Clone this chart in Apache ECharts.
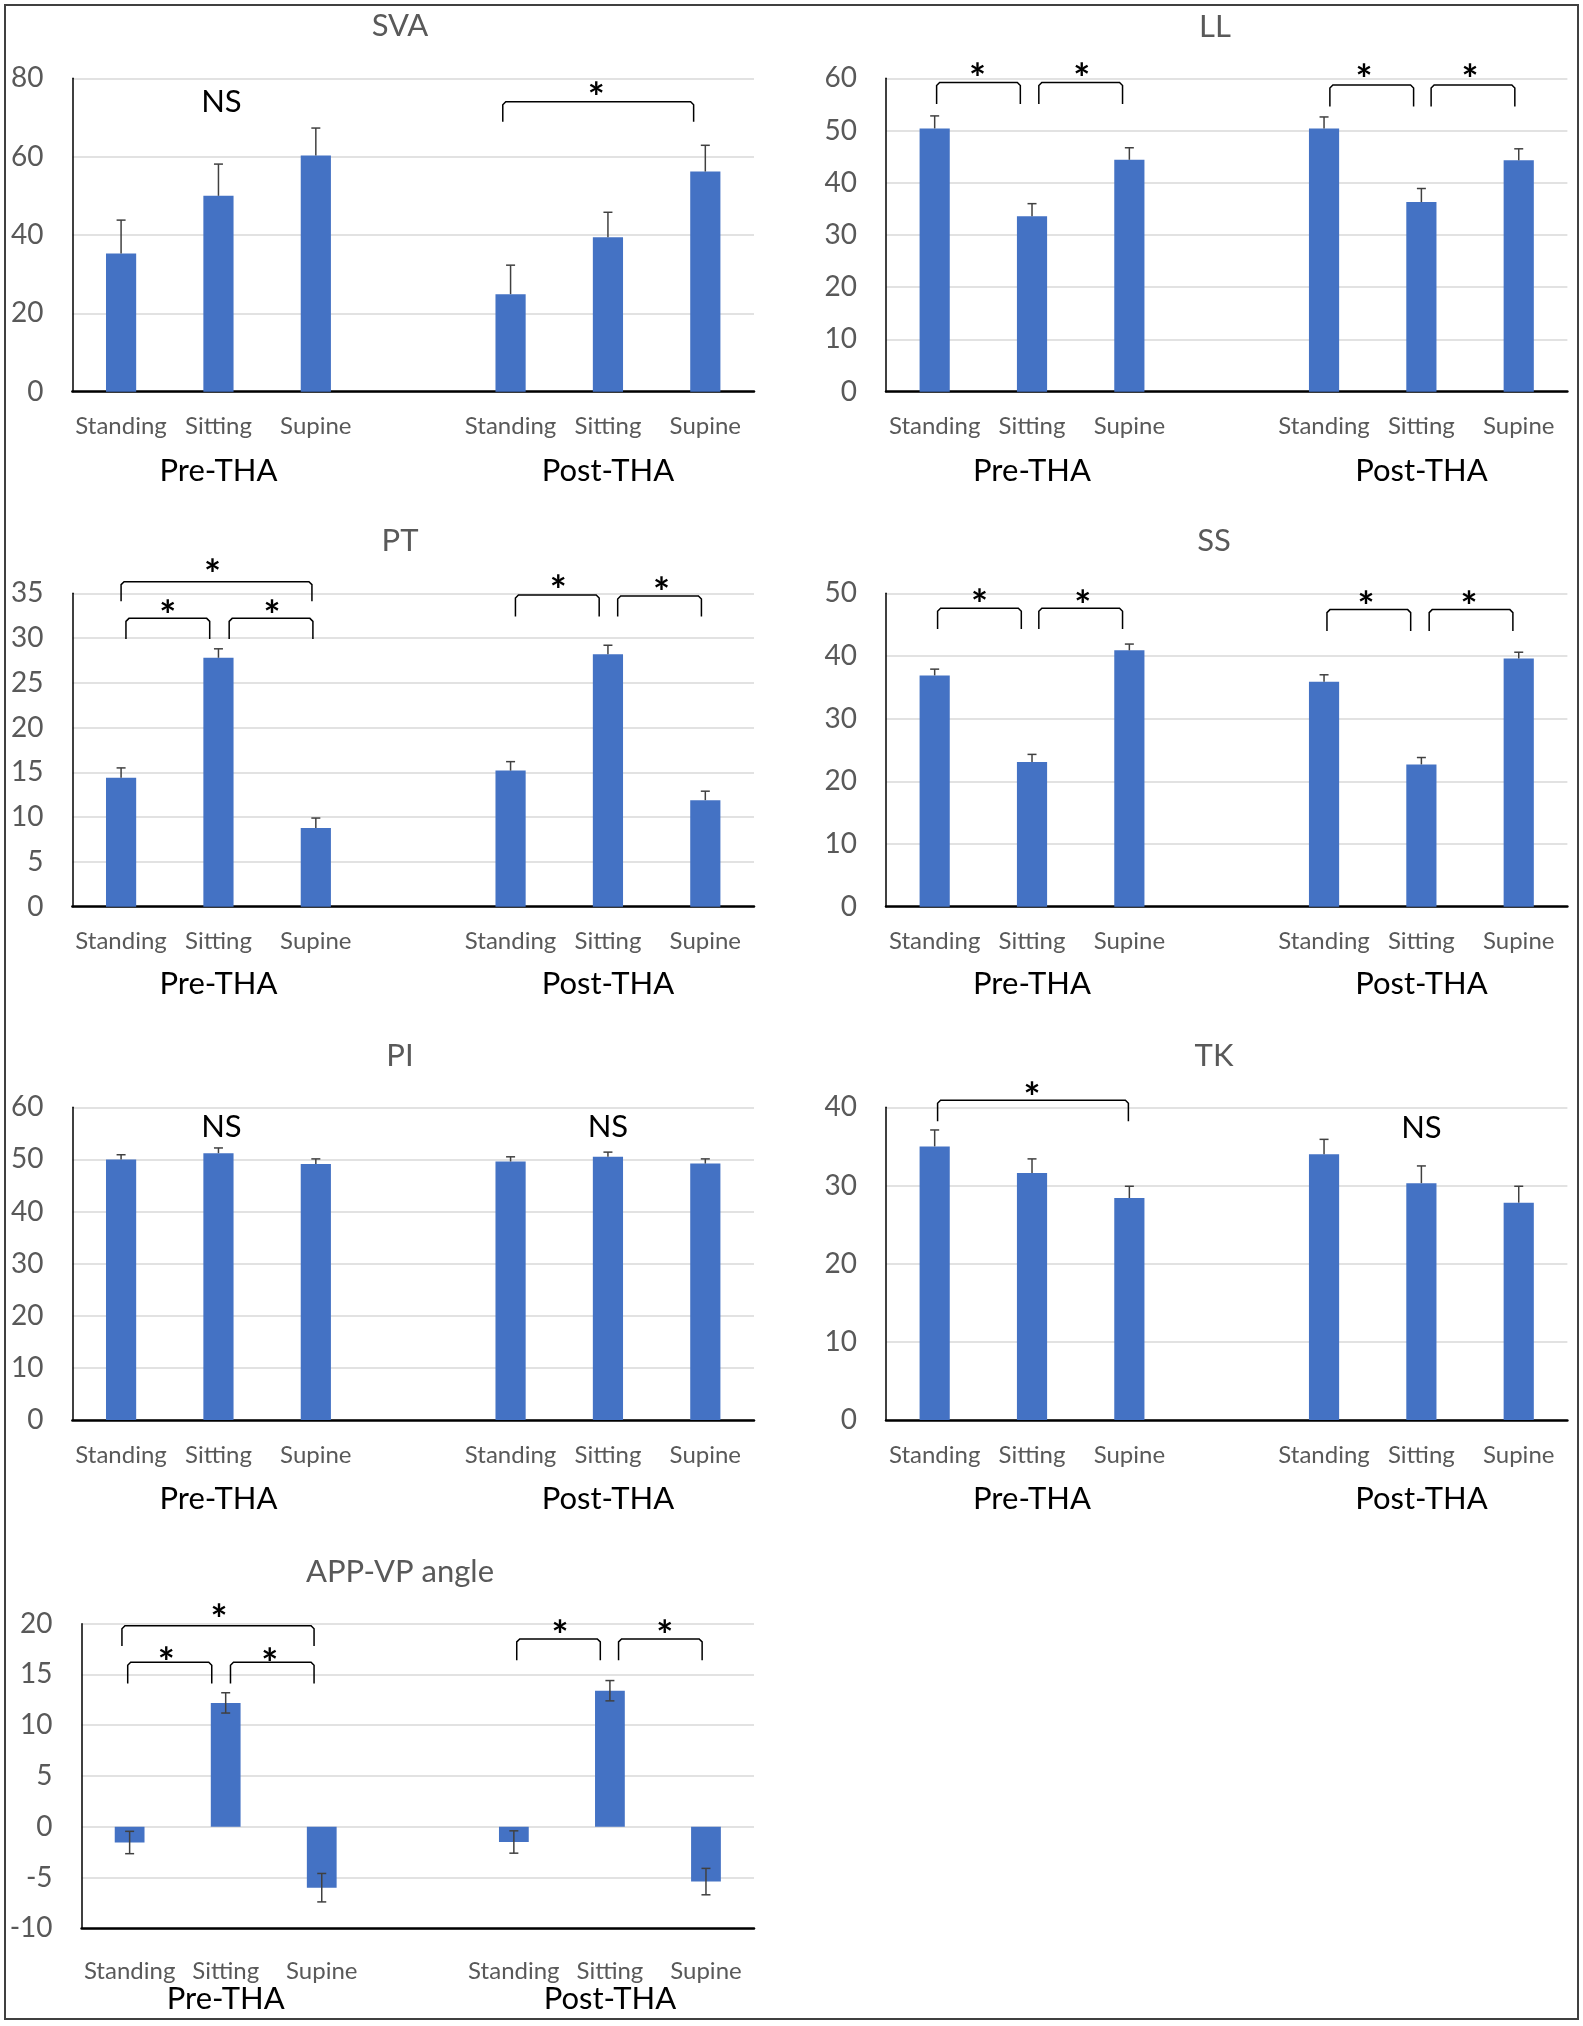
<!DOCTYPE html>
<html>
<head>
<meta charset="utf-8">
<script src="https://cdn.jsdelivr.net/npm/echarts@6/dist/echarts.min.js"></script>
<style>
html,body{margin:0;padding:0;background:#fff;}
#chart{width:1583px;height:2026px;}
</style>
</head>
<body>
<div id="chart"></div>
<script>
// ---------- DATA ----------
const categories = ['Standing', 'Sitting', 'Supine', '', 'Standing', 'Sitting', 'Supine'];
const groupLabels = ['', 'Pre-THA', '', '', '', 'Post-THA', ''];
const titles = ['SVA', 'LL', 'PT', 'SS', 'PI', 'TK', 'APP-VP angle'];

const svaMean = [35.3, 50.0, 60.3, null, 24.9, 39.4, 56.2];
const svaErr  = [8.5, 8.1, 7.0, null, 7.4, 6.4, 6.7];
const llMean  = [50.4, 33.6, 44.4, null, 50.4, 36.3, 44.3];
const llErr   = [2.4, 2.4, 2.3, null, 2.2, 2.6, 2.2];
const ptMean  = [14.4, 27.8, 8.8, null, 15.2, 28.2, 11.9];
const ptErr   = [1.1, 1.0, 1.1, null, 1.0, 1.0, 1.0];
const ssMean  = [36.9, 23.1, 40.9, null, 35.9, 22.7, 39.6];
const ssErr   = [1.0, 1.2, 1.0, null, 1.1, 1.1, 1.0];
const piMean  = [50.0, 51.2, 49.1, null, 49.6, 50.5, 49.2];
const piErr   = [0.9, 1.0, 1.0, null, 0.9, 0.9, 0.9];
const tkMean  = [35.0, 31.6, 28.4, null, 34.0, 30.3, 27.8];
const tkErr   = [2.1, 1.8, 1.5, null, 1.9, 2.2, 2.1];
const appMean = [-1.55, 12.2, -6.0, null, -1.5, 13.4, -5.4];
const appErr  = [1.1, 1.0, 1.4, null, 1.1, 1.0, 1.3];

// tick labels (value axes)
const svaTicks = [0, 20, 40, 60, 80];
const llTicks  = [0, 10, 20, 30, 40, 50, 60];
const ptTicks  = [0, 5, 10, 15, 20, 25, 30, 35];
const ssTicks  = [0, 10, 20, 30, 40, 50];
const piTicks  = [0, 10, 20, 30, 40, 50, 60];
const tkTicks  = [0, 10, 20, 30, 40];
const appTicks = [-10, -5, 0, 5, 10, 15, 20];

// significance annotations: brackets [fromCat, toCat, topValue, legValue], stars [cat, value], NS [cat, value]
const svaBrackets = [[3.92, 5.88, 74.0, 68.9]];
const svaStars    = [[4.88, 77.5]];
const svaNS       = [[1.03, 74.0]];
const llBrackets  = [[0.02, 0.88, 59.2, 55.1], [1.07, 1.93, 59.2, 55.1], [4.06, 4.92, 58.7, 54.6], [5.10, 5.96, 58.7, 54.6]];
const llStars     = [[0.44, 61.7], [1.51, 61.7], [4.41, 61.6], [5.50, 61.6]];
const ptBrackets  = [[0.0, 1.96, 36.3, 34.1], [0.05, 0.91, 32.2, 29.9], [1.11, 1.97, 32.2, 29.9], [4.05, 4.91, 34.8, 32.4], [5.10, 5.96, 34.7, 32.4]];
const ptStars     = [[0.94, 38.1], [0.48, 33.6], [1.55, 33.5], [4.49, 36.3], [5.55, 36.1]];
const ssBrackets  = [[0.03, 0.89, 47.6, 44.3], [1.07, 1.93, 47.6, 44.3], [4.03, 4.89, 47.4, 44.0], [5.08, 5.94, 47.4, 44.0]];
const ssStars     = [[0.46, 49.7], [1.52, 49.6], [4.43, 49.4], [5.49, 49.4]];
const piNS        = [[1.03, 56.2], [5.0, 56.2]];
const tkBrackets  = [[0.03, 1.99, 40.9, 38.2]];
const tkStars     = [[1.0, 42.4]];
const tkNS        = [[5.0, 37.4]];
const appBrackets = [[-0.08, 1.92, 19.8, 17.8], [-0.02, 0.855, 16.2, 14.1], [1.05, 1.92, 16.2, 14.1], [4.03, 4.90, 18.5, 16.4], [5.09, 5.96, 18.5, 16.4]];
const appStars    = [[0.93, 21.3], [0.38, 17.1], [1.46, 17.0], [4.48, 19.7], [5.57, 19.7]];

// ---------- PANELS ----------
const panels = [
  {mean: svaMean, err: svaErr, ticks: svaTicks, brackets: svaBrackets, stars: svaStars, ns: svaNS, both: false},
  {mean: llMean,  err: llErr,  ticks: llTicks,  brackets: llBrackets,  stars: llStars,  ns: [],    both: false},
  {mean: ptMean,  err: ptErr,  ticks: ptTicks,  brackets: ptBrackets,  stars: ptStars,  ns: [],    both: false},
  {mean: ssMean,  err: ssErr,  ticks: ssTicks,  brackets: ssBrackets,  stars: ssStars,  ns: [],    both: false},
  {mean: piMean,  err: piErr,  ticks: piTicks,  brackets: [],          stars: [],       ns: piNS,  both: false},
  {mean: tkMean,  err: tkErr,  ticks: tkTicks,  brackets: tkBrackets,  stars: tkStars,  ns: tkNS,  both: false},
  {mean: appMean, err: appErr, ticks: appTicks, brackets: appBrackets, stars: appStars, ns: [],    both: true}
];

const layout = [
  {left: 72.4, top: 78.3,   width: 681.6, height: 313.4, titleX: 400,  titleY: 26,   catMargin: 21, grpMargin: 61},
  {left: 886,  top: 78.3,   width: 681.4, height: 313.4, titleX: 1215, titleY: 27,   catMargin: 21, grpMargin: 61},
  {left: 72.4, top: 593.3,  width: 681.6, height: 313.4, titleX: 400,  titleY: 541,  catMargin: 21, grpMargin: 59},
  {left: 886,  top: 593.3,  width: 681.4, height: 313.4, titleX: 1214, titleY: 541,  catMargin: 21, grpMargin: 59},
  {left: 72.4, top: 1107.3, width: 681.6, height: 312.7, titleX: 400,  titleY: 1056, catMargin: 21, grpMargin: 61},
  {left: 886,  top: 1107.3, width: 681.4, height: 312.7, titleX: 1214, titleY: 1056, catMargin: 21, grpMargin: 61},
  {left: 81.6, top: 1623.7, width: 672.4, height: 304.6, titleX: 400,  titleY: 1572, catMargin: 29, grpMargin: 53}
];

const FONT = 'Lato, "Noto Sans", sans-serif';
const BAR_COLOR = '#4472C4';
const TEXT_GRAY = '#595959';
const STAR_SIZE = 40;

function errRender(params, api) {
  const x = api.value(0);
  const lo = api.coord([x, api.value(1)]);
  const hi = api.coord([x, api.value(2)]);
  const both = api.value(3) === 1;
  const st = {stroke: '#404040', lineWidth: 1.5};
  const cap = 4.5;
  const children = [
    {type: 'line', shape: {x1: hi[0], y1: lo[1], x2: hi[0], y2: hi[1]}, style: st},
    {type: 'line', shape: {x1: hi[0] - cap, y1: hi[1], x2: hi[0] + cap, y2: hi[1]}, style: st}
  ];
  if (both) {
    children.push({type: 'line', shape: {x1: lo[0] - cap, y1: lo[1], x2: lo[0] + cap, y2: lo[1]}, style: st});
  }
  return {type: 'group', children: children};
}

function makeAnnot(p) {
  return function (params, api) {
    const base = api.coord([0, p.ticks[0]]);
    const band = api.size([1, 0])[0];
    const px = f => base[0] + f * band;
    const py = v => api.coord([0, v])[1];
    const children = [];
    p.brackets.forEach(b => {
      const x1 = px(b[0]), x2 = px(b[1]), yt = py(b[2]), yl = py(b[3]);
      children.push({
        type: 'polyline',
        shape: {points: [[x1, yl], [x1, yt + 3], [x1 + 3, yt], [x2 - 3, yt], [x2, yt + 3], [x2, yl]]},
        style: {stroke: '#000', lineWidth: 1.5, fill: null}
      });
    });
    p.stars.forEach(s => {
      children.push({
        type: 'text',
        style: {text: '*', x: px(s[0]), y: py(s[1]) + STAR_SIZE * 0.27, font: 'bold ' + STAR_SIZE + 'px ' + FONT, fill: '#000', align: 'center', verticalAlign: 'middle'}
      });
    });
    p.ns.forEach(n => {
      children.push({
        type: 'text',
        style: {text: 'NS', x: px(n[0]), y: py(n[1]), font: '31px ' + FONT, fill: '#000', align: 'center', verticalAlign: 'middle'}
      });
    });
    return {type: 'group', children: children};
  };
}

const option = {
  animation: false,
  backgroundColor: '#fff',
  title: panels.map((p, i) => ({
    text: titles[i], left: layout[i].titleX, top: layout[i].titleY,
    textAlign: 'center', textVerticalAlign: 'middle', padding: 0,
    textStyle: {fontFamily: FONT, fontSize: 31, fontWeight: 'normal', color: TEXT_GRAY}
  })),
  grid: layout.map(l => ({left: l.left, top: l.top, width: l.width, height: l.height, containLabel: false, outerBoundsMode: 'none'})),
  xAxis: [],
  yAxis: [],
  series: [],
  graphic: [{
    type: 'rect', shape: {x: 5, y: 5, width: 1573, height: 2014},
    style: {fill: null, stroke: '#404040', lineWidth: 2}, silent: true, z: -10
  }]
};

panels.forEach((p, i) => {
  const l = layout[i];
  option.xAxis.push({
    type: 'category', gridIndex: i, data: categories, position: 'bottom',
    axisLine: {show: true, onZero: false, lineStyle: {color: '#000', width: 2.5}},
    axisTick: {show: false},
    axisLabel: {interval: 0, margin: l.catMargin, fontFamily: FONT, fontSize: 24, lineHeight: 28, color: TEXT_GRAY},
    splitLine: {show: false}
  });
  option.xAxis.push({
    type: 'category', gridIndex: i, data: groupLabels, position: 'bottom',
    axisLine: {show: false}, axisTick: {show: false},
    axisLabel: {interval: 0, margin: l.grpMargin, fontFamily: FONT, fontSize: 31, lineHeight: 36, color: '#000'},
    splitLine: {show: false}
  });
  const t = p.ticks;
  option.yAxis.push({
    type: 'value', gridIndex: i, min: t[0], max: t[t.length - 1], interval: t[1] - t[0],
    axisLine: {show: true, lineStyle: {color: '#000', width: 1.5}},
    axisTick: {show: false},
    axisLabel: {margin: 29, fontFamily: FONT, fontSize: 28, color: TEXT_GRAY},
    splitLine: {show: true, lineStyle: {color: '#d9d9d9', width: 1.5}}
  });
  option.series.push({
    type: 'bar', xAxisIndex: 2 * i, yAxisIndex: i,
    data: p.mean.map(v => v == null ? '-' : v),
    barWidth: '31%', itemStyle: {color: BAR_COLOR}, silent: true, z: 2
  });
  const errData = [];
  p.mean.forEach((m, k) => {
    if (m == null) return;
    const e = p.err[k];
    errData.push([k, p.both ? m - e : m, m + e, p.both ? 1 : 0]);
  });
  option.series.push({
    type: 'custom', xAxisIndex: 2 * i, yAxisIndex: i,
    data: errData, encode: {x: 0, y: [1, 2]}, renderItem: errRender, z: 3, silent: true
  });
  option.series.push({
    type: 'custom', xAxisIndex: 2 * i, yAxisIndex: i,
    data: [[0, p.ticks[0]]], encode: {x: 0, y: 1}, renderItem: makeAnnot(p), z: 4, silent: true, clip: false
  });
});

const chart = echarts.init(document.getElementById('chart'), null, {renderer: 'canvas', width: 1583, height: 2026});
chart.setOption(option);
</script>
</body>
</html>
